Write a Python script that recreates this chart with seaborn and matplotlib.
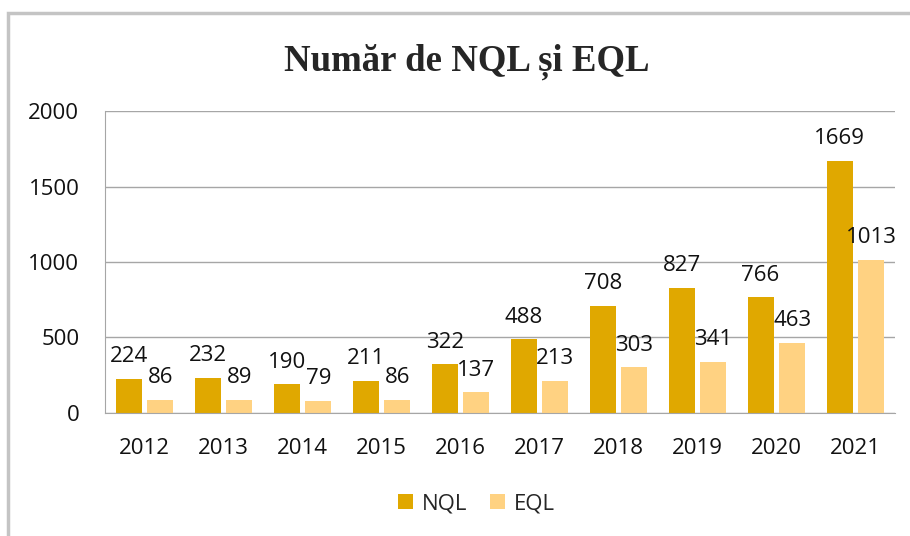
import numpy as np
import pandas as pd
import seaborn as sns
import matplotlib.pyplot as plt
from matplotlib.patches import Rectangle

years = ['2012', '2013', '2014', '2015', '2016', '2017', '2018', '2019', '2020', '2021']
nql = [224, 232, 190, 211, 322, 488, 708, 827, 766, 1669]
eql = [86, 89, 79, 86, 137, 213, 303, 341, 463, 1013]
series = ['NQL', 'EQL']
colors = ['#E0A800', '#FFD282']

df = pd.DataFrame({
    'an': years * 2,
    'valoare': nql + eql,
    'serie': ['NQL'] * len(years) + ['EQL'] * len(years),
})

sns.set_style('white')
plt.rcParams['font.family'] = ['Open Sans', 'DejaVu Sans']

fig = plt.figure(figsize=(9.1, 5.36), dpi=100)
ax = fig.add_axes([0.1154, 0.2295, 0.868, 0.5634])

sns.barplot(data=df, x='an', y='valoare', hue='serie', hue_order=series,
            palette=colors, width=0.8, gap=0.18, ax=ax, saturation=1,
            linewidth=0, legend=True)

for cont in ax.containers:
    for bar in cont:
        h = bar.get_height()
        ax.annotate(f'{int(h)}', (bar.get_x() + bar.get_width() / 2, h),
                    xytext=(0, 12), textcoords='offset points',
                    ha='center', va='baseline', fontsize=16, color='#111111')

ax.set_ylim(0, 2000)
ax.set_yticks([0, 500, 1000, 1500, 2000])
ax.yaxis.grid(True, color='#a6a6a6', linewidth=1)
ax.set_axisbelow(True)
ax.set_xlabel('')
ax.set_ylabel('')
for s in ['top', 'right']:
    ax.spines[s].set_visible(False)
ax.spines['left'].set_color('#a6a6a6')
ax.spines['bottom'].set_color('#a6a6a6')
ax.tick_params(axis='y', length=0, pad=18.5, labelsize=16, colors='#111111')
ax.tick_params(axis='x', length=0, pad=18, labelsize=16, colors='#111111')

ax.legend(loc='upper center', bbox_to_anchor=(0.47, -0.2), ncol=2, frameon=False,
          fontsize=16, handlelength=0.7, handleheight=0.7, handletextpad=0.4,
          columnspacing=1.0)

fig.text(0.513, 0.869, 'Număr de NQL și EQL', ha='center', va='baseline',
         fontsize=26.5, fontweight='bold', family=['Liberation Serif', 'DejaVu Serif'])

fig.patches.append(Rectangle((8 / 910, -0.1), 1.2, (536 - 13) / 536 + 0.1,
                             transform=fig.transFigure, fill=False,
                             edgecolor='#c4c4c4', linewidth=2.5))

fig.savefig('out.png', dpi=100)
